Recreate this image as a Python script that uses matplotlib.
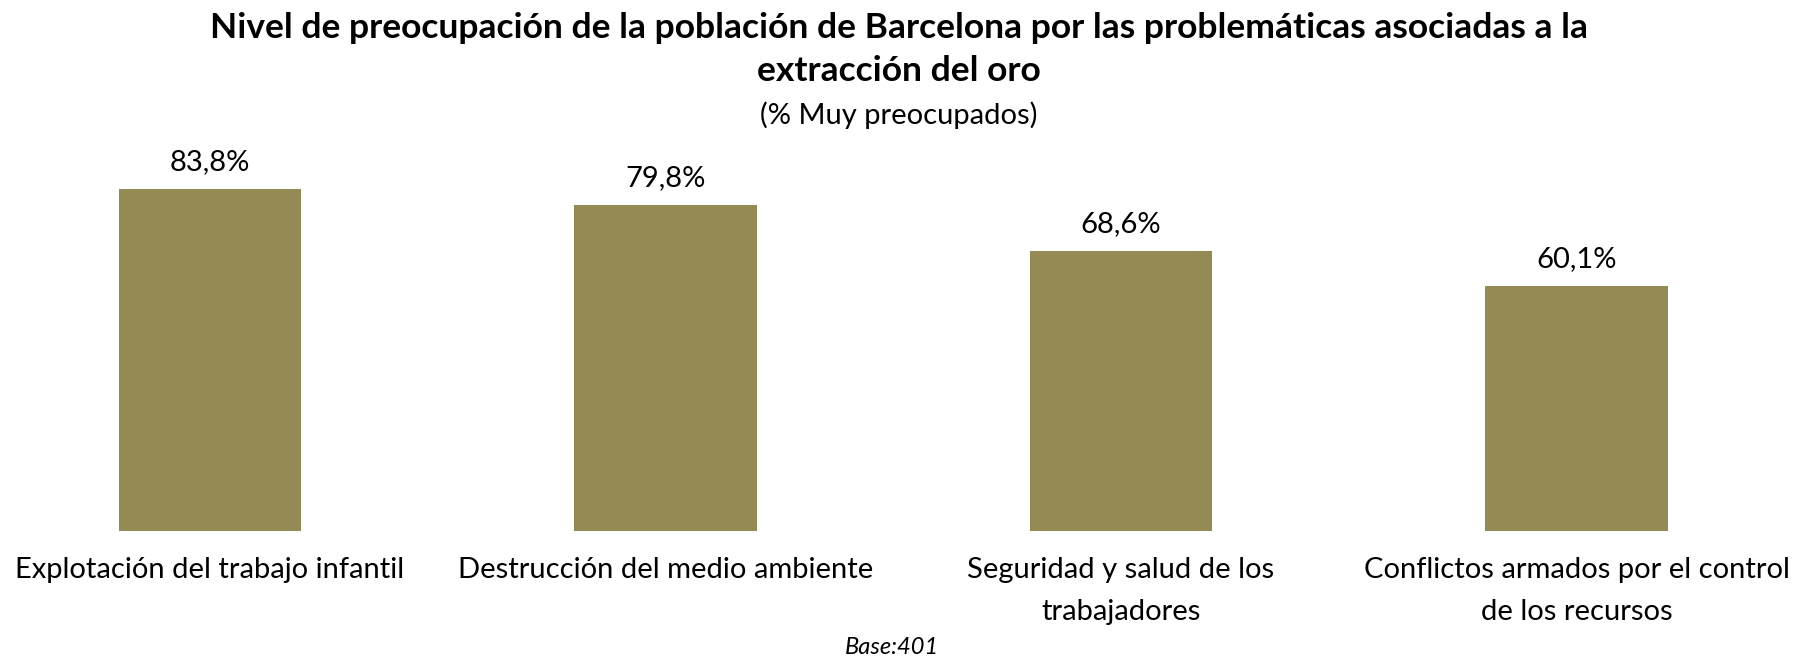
import matplotlib
matplotlib.use("Agg")
import matplotlib.pyplot as plt

categories = ["Explotación del trabajo infantil",
              "Destrucción del medio ambiente",
              "Seguridad y salud de los\ntrabajadores",
              "Conflictos armados por el control\nde los recursos"]
values = [83.8, 79.8, 68.6, 60.1]
value_labels = ["83,8%", "79,8%", "68,6%", "60,1%"]

title_lines = ["Nivel de preocupación de la población de Barcelona por las problemáticas asociadas a la",
               "extracción del oro"]
subtitle = "(% Muy preocupados)"
base_note = "Base:401"

FONT = "Lato"
COLOR = "#948A54"

W, H = 1798, 656
fig = plt.figure(figsize=(W / 100, H / 100), dpi=100)

# axes: y=0 at 531 px from top, top at 130 px
ax_bottom = (H - 531) / H
ax_top = (H - 130) / H
ax = fig.add_axes([0, ax_bottom, 1, ax_top - ax_bottom])
px_per_unit = (531 - 189) / 83.8
ax.set_ylim(0, (531 - 130) / px_per_unit)
spacing = 455.5
ax.set_xlim(-210 / spacing, (W - 210) / spacing)

x = list(range(len(categories)))
ax.bar(x, values, width=0.4, color=COLOR, edgecolor="none")

for xi, v, lab in zip(x, values, value_labels):
    ax.annotate(lab, (xi, v), xytext=(0, 27), textcoords="offset pixels",
                ha="center", va="center", fontsize=21, family=FONT, color="black")

ax.set_xticks(x)
ax.set_xticklabels(categories, fontsize=21, family=FONT, linespacing=1.75)
ax.tick_params(axis="x", length=0, pad=19)
ax.set_yticks([])
for s in ax.spines.values():
    s.set_visible(False)

fig.text(0.5, 1 - 28 / H, title_lines[0], ha="center", va="center", fontsize=25.5,
         fontweight="bold", family=FONT)
fig.text(0.5, 1 - 71 / H, title_lines[1], ha="center", va="center", fontsize=25.5,
         fontweight="bold", family=FONT)
fig.text(0.5, 1 - 115 / H, subtitle, ha="center", va="center", fontsize=21, family=FONT)
fig.text(892 / W, 1 - 647 / H, base_note, ha="center", va="center", fontsize=17,
         style="italic", family=FONT)

fig.savefig("out.png", dpi=100, facecolor="white")
